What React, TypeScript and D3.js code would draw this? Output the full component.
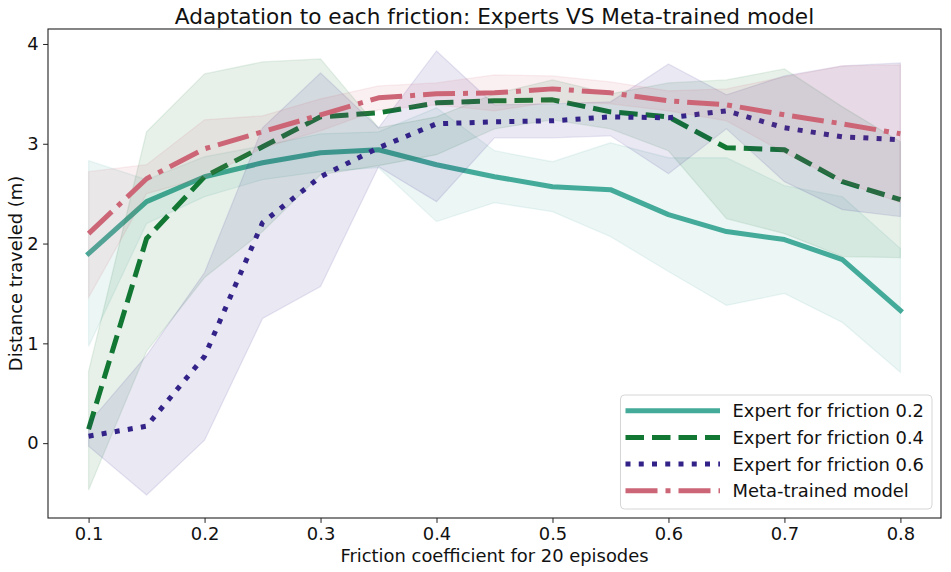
import { useEffect, useRef } from "react";
import * as d3 from "d3";

// friction coefficients on the x axis
const frictions = [0.1, 0.15, 0.2, 0.25, 0.3, 0.35, 0.4, 0.45, 0.5, 0.55, 0.6, 0.65, 0.7, 0.75, 0.8];

// Expert for friction 0.2
const expert02Mean = [1.9, 2.42, 2.67, 2.81, 2.91, 2.94, 2.79, 2.67, 2.57, 2.54, 2.29, 2.12, 2.04, 1.84, 1.33];
const expert02Low = [0.97, 2.2, 2.47, 2.64, 2.72, 2.76, 2.22, 2.41, 2.32, 2.07, 1.72, 1.38, 1.5, 1.21, 0.71];
const expert02High = [2.83, 2.64, 2.87, 2.98, 3.1, 3.12, 3.36, 2.93, 2.82, 3.01, 2.86, 2.86, 2.58, 2.47, 1.95];

// Expert for friction 0.4
const expert04Mean = [0.14, 2.05, 2.67, 2.97, 3.27, 3.31, 3.41, 3.43, 3.44, 3.32, 3.27, 2.96, 2.94, 2.62, 2.44];
const expert04Low = [-0.47, 0.92, 1.66, 2.12, 2.69, 2.78, 2.89, 3.15, 3.24, 3.15, 2.93, 2.25, 2.1, 1.87, 1.86];
const expert04High = [0.72, 3.12, 3.7, 3.82, 3.85, 3.16, 3.27, 3.5, 3.64, 3.5, 3.61, 3.64, 3.75, 3.37, 3.02];

// Expert for friction 0.6
const expert06Mean = [0.07, 0.17, 0.87, 2.21, 2.67, 2.96, 3.2, 3.22, 3.23, 3.27, 3.26, 3.33, 3.16, 3.07, 3.04];
const expert06Low = [-0.03, -0.52, 0.03, 1.25, 1.57, 2.77, 2.42, 3.06, 3.06, 3.08, 2.7, 3.15, 2.62, 2.34, 2.27];
const expert06High = [0.2, 0.88, 1.71, 3.16, 3.71, 3.16, 3.93, 3.39, 3.4, 3.42, 3.8, 3.49, 3.68, 3.78, 3.81];

// Meta-trained model
const metaMean = [2.1, 2.65, 2.95, 3.12, 3.29, 3.46, 3.5, 3.51, 3.55, 3.51, 3.43, 3.39, 3.29, 3.2, 3.1];
const metaLow = [1.46, 2.5, 2.66, 2.96, 3.13, 3.34, 3.39, 3.33, 3.42, 3.4, 3.33, 3.23, 2.91, 2.62, 2.41];
const metaHigh = [2.72, 2.79, 3.24, 3.28, 3.45, 3.58, 3.61, 3.69, 3.68, 3.62, 3.53, 3.55, 3.67, 3.78, 3.79];

const xTicks = [0.1, 0.2, 0.3, 0.4, 0.5, 0.6, 0.7, 0.8];
const yTicks = [0, 1, 2, 3, 4];

const series = [
  { label: "Expert for friction 0.2", color: "#44AA99", dash: "none", mean: expert02Mean, low: expert02Low, high: expert02High },
  { label: "Expert for friction 0.4", color: "#117733", dash: "18.5,8", mean: expert04Mean, low: expert04Low, high: expert04High },
  { label: "Expert for friction 0.6", color: "#332288", dash: "5,8.25", mean: expert06Mean, low: expert06Low, high: expert06High },
  { label: "Meta-trained model", color: "#CC6677", dash: "32,8,5,8", mean: metaMean, low: metaLow, high: metaHigh },
];

const App = () => {
  const ref = useRef<SVGSVGElement | null>(null);

  useEffect(() => {
    if (!ref.current) return;
    document.body.style.margin = "0";
    d3.select(ref.current).selectAll("*").remove();

    const width = 951;
    const height = 572;
    const m = { top: 29, right: 10, bottom: 54, left: 48 };
    const font = "DejaVu Sans, sans-serif";

    const svg = d3.select(ref.current).attr("width", width).attr("height", height);

    svg.append("rect").attr("width", width).attr("height", height).attr("fill", "#fff");

    const x = d3.scaleLinear().domain([0.065, 0.835]).range([m.left, width - m.right]);
    const y = d3.scaleLinear().domain([-0.75, 4.15]).range([height - m.bottom, m.top]);

    svg
      .append("defs")
      .append("clipPath")
      .attr("id", "plot-clip")
      .append("rect")
      .attr("x", m.left)
      .attr("y", m.top)
      .attr("width", width - m.right - m.left)
      .attr("height", height - m.bottom - m.top);

    const plot = svg.append("g").attr("clip-path", "url(#plot-clip)");

    const area = d3
      .area<number>()
      .x((_, i) => x(frictions[i]))
      .y0((d) => y(d));

    const line = d3
      .line<number>()
      .x((_, i) => x(frictions[i]))
      .y((d) => y(d));

    // bands + mean lines, in plotting order
    series.forEach((s) => {
      plot
        .append("path")
        .datum(s.low)
        .attr("d", area.y1((_, i) => y(s.high[i]))(s.low) as string)
        .attr("fill", s.color)
        .attr("fill-opacity", 0.1)
        .attr("stroke", s.color)
        .attr("stroke-opacity", 0.1)
        .attr("stroke-width", 1.3);

      plot
        .append("path")
        .datum(s.mean)
        .attr("d", line)
        .attr("fill", "none")
        .attr("stroke", s.color)
        .attr("stroke-width", 5)
        .attr("stroke-dasharray", s.dash)
        .attr("stroke-linejoin", "round")
        .attr("stroke-linecap", s.dash === "none" ? "square" : "butt");
    });

    // X axis
    const xAxis = svg
      .append("g")
      .attr("transform", `translate(0,${height - m.bottom})`)
      .call(
        d3
          .axisBottom(x)
          .tickValues(xTicks)
          .tickSize(4.9)
          .tickPadding(4.5)
          .tickSizeOuter(0)
          .tickFormat((d) => d3.format(".1f")(d as number)) as any
      );
    xAxis.select(".domain").remove();
    xAxis.selectAll("line").attr("stroke", "#222").attr("stroke-width", 1);
    xAxis.selectAll("text").attr("fill", "#111").style("font-family", font).style("font-size", "17.9px");

    // Y axis
    const yAxis = svg
      .append("g")
      .attr("transform", `translate(${m.left},0)`)
      .call(d3.axisLeft(y).tickValues(yTicks).tickSize(4.9).tickPadding(4.5).tickSizeOuter(0).tickFormat(d3.format("d")) as any);
    yAxis.select(".domain").remove();
    yAxis.selectAll("line").attr("stroke", "#222").attr("stroke-width", 1);
    yAxis.selectAll("text").attr("fill", "#111").style("font-family", font).style("font-size", "17.9px");

    // frame
    svg
      .append("rect")
      .attr("x", m.left)
      .attr("y", m.top)
      .attr("width", width - m.right - m.left)
      .attr("height", height - m.bottom - m.top)
      .attr("fill", "none")
      .attr("stroke", "#222")
      .attr("stroke-width", 1.1);

    // Title and labels
    const cx = (m.left + width - m.right) / 2;
    svg
      .append("text")
      .attr("x", cx)
      .attr("y", 24)
      .attr("text-anchor", "middle")
      .style("font-family", font)
      .style("font-size", "21.6px")
      .attr("fill", "#111")
      .text("Adaptation to each friction: Experts VS Meta-trained model");

    svg
      .append("text")
      .attr("x", cx)
      .attr("y", 561.5)
      .attr("text-anchor", "middle")
      .style("font-family", font)
      .style("font-size", "17.9px")
      .attr("fill", "#111")
      .text("Friction coefficient for 20 episodes");

    svg
      .append("text")
      .attr("transform", `translate(21.5,${(m.top + height - m.bottom) / 2}) rotate(-90)`)
      .attr("text-anchor", "middle")
      .style("font-family", font)
      .style("font-size", "17.9px")
      .attr("fill", "#111")
      .text("Distance traveled (m)");

    // Legend
    const legend = svg.append("g").attr("transform", "translate(620.5,395)");
    legend
      .append("rect")
      .attr("width", 311.5)
      .attr("height", 114)
      .attr("rx", 4)
      .attr("fill", "#fff")
      .attr("fill-opacity", 0.8)
      .attr("stroke", "#d6d6d6")
      .attr("stroke-width", 1);

    const rows = legend
      .selectAll("g.row")
      .data(series)
      .join("g")
      .attr("class", "row")
      .attr("transform", (_, i) => `translate(0,${15.7 + i * 26.7})`);

    rows
      .append("line")
      .attr("x1", 5)
      .attr("x2", 99.5)
      .attr("stroke", (d) => d.color)
      .attr("stroke-width", 5)
      .attr("stroke-dasharray", (d) => d.dash)
      .attr("stroke-linecap", "butt");

    rows
      .append("text")
      .attr("x", 112)
      .attr("dy", "0.36em")
      .style("font-family", font)
      .style("font-size", "17.9px")
      .attr("fill", "#111")
      .text((d) => d.label);
  }, []);

  return <svg ref={ref} style={{ display: "block" }}></svg>;
};

export default App;
